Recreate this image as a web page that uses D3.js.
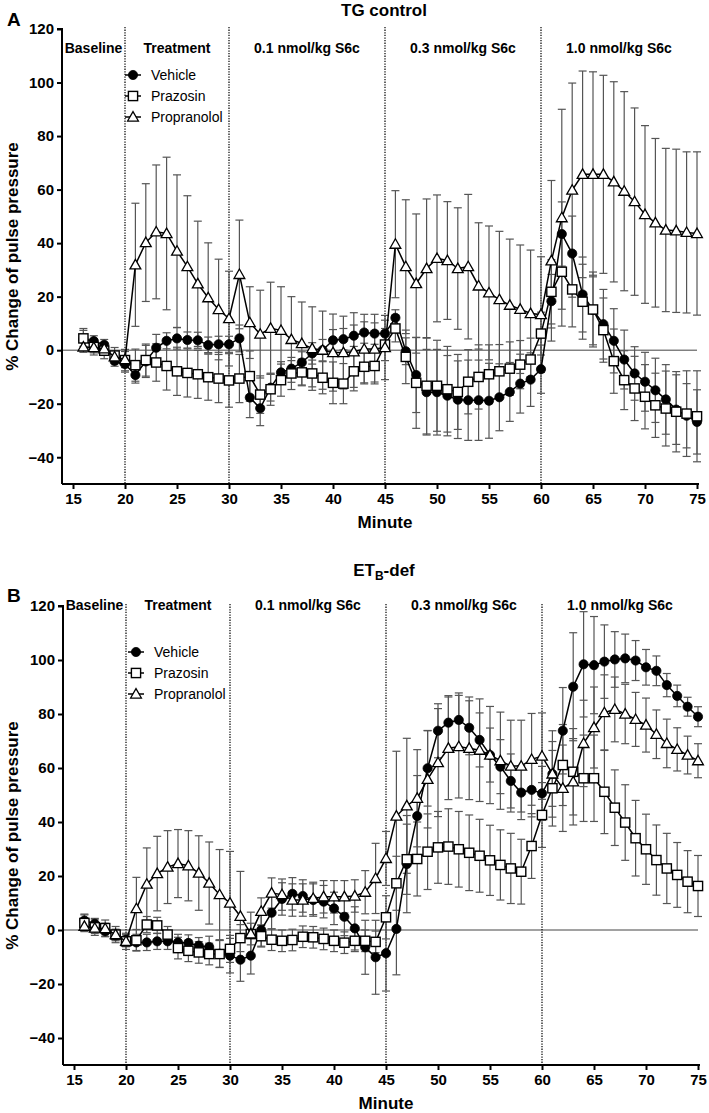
<!DOCTYPE html>
<html><head><meta charset="utf-8">
<script src="https://cdn.jsdelivr.net/npm/d3@7"></script>
<style>
body{margin:0;background:#fff}
svg{display:block}
text{font-family:"Liberation Sans",Arial,Helvetica,sans-serif;fill:#000}
</style>
</head><body>
<svg id="chart" width="709" height="1113"></svg>
<script>
// ---------------- DATA ----------------
const minutes = [16,17,18,19,20,21,22,23,24,25,26,27,28,29,30,31,32,33,34,35,36,37,38,39,40,41,42,43,44,45,46,47,48,49,50,51,52,53,54,55,56,57,58,59,60,61,62,63,64,65,66,67,68,69,70,71,72,73,74,75];
const xTicks = [15,20,25,30,35,40,45,50,55,60,65,70,75];
const yTicks = [-40,-20,0,20,40,60,80,100,120];
const phaseBounds = [20,30,45,60];
const phaseLabels = ["Baseline","Treatment","0.1 nmol/kg S6c","0.3 nmol/kg S6c","1.0 nmol/kg S6c"];
const seriesNames = ["Vehicle","Prazosin","Propranolol"];
const panelTitles = ["TG control","ET_B-def"];
const panelLetters = ["A","B"];

// Panel A (TG control)
const aVehicle = [4.1,3.4,2.0,-4.0,-5.2,-9.3,-4.2,0.9,3.5,4.4,3.8,3.7,1.9,2.2,2.2,4.4,-17.7,-21.7,-14.0,-8.3,-6.9,-4.6,-1.2,0.0,3.7,4.1,5.4,6.6,6.2,6.2,12.1,-0.4,-9.3,-15.7,-15.7,-17.0,-18.5,-18.7,-18.7,-18.9,-17.6,-15.6,-12.5,-11.0,-7.1,18.3,43.4,36.1,20.8,15.0,9.7,3.5,-3.5,-8.7,-11.8,-15.0,-18.4,-22.2,-24.5,-26.8];
const aVehicleErr = [4,2,2,2,3,3,6,5,3,4,3,3,3,3,3,5,7.5,6.5,5,4,3,4,4,4,4,4,4,4,4,5,3,5,14,16,16,15,14.5,15,15,14,12.5,11,11,10,9,10,12,14,14,13,13,12,11,10,11,12,13,13,12,12];
const aPrazosin = [4.4,1.2,-0.2,-2.0,-3.7,-5.6,-3.7,-4.6,-5.9,-7.9,-8.5,-9.0,-10.1,-10.6,-11.3,-10.6,-9.7,-16.6,-14.6,-11.2,-8.7,-8.3,-8.7,-10.3,-12.2,-12.5,-7.9,-6.2,-5.9,2.1,8.1,-2.5,-12.2,-13.3,-13.3,-14.6,-15.6,-11.8,-10.0,-9.0,-7.9,-6.9,-5.4,-3.5,6.2,21.8,29.3,22.7,18.1,15.2,7.5,-4.1,-11.2,-14.3,-17.4,-20.6,-21.8,-23.0,-23.7,-24.7];
const aPrazosinErr = [3,3,3,3,4,6,6,7,9,9,9,9,8.6,9,10,9,9.4,7,6,6,6,5,5,6,7.8,7.5,6,6,6,6,5,10,17,18,17,16,14,12,12,11,10,10,9,8,8,12,14,14,14,14,12,12,11,12,12,12,14,15,16,17];
const aPropranolol = [1.2,1.0,0.5,-2.5,-3.5,31.9,40.2,44.2,43.6,37.0,31.2,24.8,19.6,15.2,11.8,28.3,10.3,6.0,8.2,7.4,4.0,2.5,0.6,0.0,-0.9,-0.9,-0.6,0.4,0.4,1.0,39.6,31.2,24.9,30.5,34.3,33.5,30.5,31.2,24.0,21.4,18.9,16.8,15.3,13.7,13.3,33.4,49.5,59.8,65.7,65.7,65.7,62.9,59.4,55.5,50.7,47.6,44.9,44.6,44.0,43.6];
const aPropranololErr = [2,2,2,2,3,23,22,25,28.5,28.5,26.5,23.4,20.5,18.8,17.7,20.3,13.4,16.4,17.2,16.3,16,15.5,15.6,14.6,14.4,13.6,14.6,13,13,12,20,25,26,26,23.7,22,22.7,27,23.6,25,25.5,24.7,24,23.7,21.6,30,40.5,40,38.6,38.3,37,37.4,37.2,35,33.2,31.5,30.5,30.5,30.1,30.5];

// Panel B (ETB-def)
const bVehicle = [3.5,2.3,-0.5,-2.0,-3.6,-4.6,-4.6,-4.2,-4.2,-4.6,-4.8,-5.8,-6.3,-8.8,-9.5,-11.0,-9.5,0.0,6.4,11.5,13.4,12.6,11.1,10.5,8.0,4.9,0.6,-6.4,-10.1,-8.6,0.4,24.4,42.2,59.9,73.8,76.8,77.8,74.9,70.4,64.8,60.5,55.2,50.9,51.9,50.6,57.8,73.8,90.1,98.4,98.1,99.4,100.2,100.6,99.8,97.3,96.0,90.7,86.7,82.7,79.0];
const bVehicleErr = [2.4,2,2,2,2,3,3,3,3,3,3,3,4,5,6.4,8,6.8,6,6,6,6,6,6,6,6,7,8,10,13.7,14,17,18,15,14,10,10,10,10,10,10,10,10,10,10,10,12,16,20,19.5,18,13.6,10.3,9,7.4,6.6,5.5,4.3,4,3.5,3.7];
const bPrazosin = [2.6,1.0,0.7,-1.7,-4.2,-3.8,2.0,1.7,-1.7,-6.7,-7.7,-8.3,-8.9,-8.9,-7.0,-3.0,-1.5,-2.3,-3.6,-4.0,-3.7,-2.5,-2.7,-3.3,-4.0,-4.7,-4.0,-4.0,-4.4,4.7,17.3,26.2,26.3,29.0,30.6,30.9,29.9,28.6,27.5,25.8,24.1,22.8,21.6,31.1,42.6,52.5,61.1,58.6,56.2,56.2,51.2,45.3,39.8,34.0,29.9,25.9,22.8,20.4,17.9,16.3];
const bPrazosinErr = [3,3,3,3,3,4,3,3,3,4,4,4,4,5,5,5,4,4,4,4,4,4,4,4,4,4,4,4,4,8,10,13,13.7,14,13.3,14,14,14,13.5,13,13,13,12,12,12,14,15,16,16,16,15.5,14,14,14,13,13,13,12,11.5,11.3];
const bPropranolol = [1.4,0.7,0.5,-1.7,-4.2,7.9,17.0,20.9,23.3,24.6,23.8,21.1,17.4,13.1,10.0,5.1,-1.4,6.9,13.7,13.1,11.1,11.1,11.7,12.3,12.3,12.3,12.6,14.0,19.1,26.5,42.2,46.0,48.8,55.8,62.0,67.3,67.9,67.3,66.6,64.8,62.7,60.7,60.7,63.2,64.4,57.8,52.5,54.9,69.1,75.0,80.5,81.7,80.0,78.0,75.9,72.5,69.1,66.9,64.8,62.7];
const bPropranololErr = [2,2,2,2,2,11.6,13.4,13.8,13.5,12.6,13,13.8,15.2,16.7,19.1,16.6,8,5,5.6,5.8,6,6,6,6,6,6,6,8,13,10,24,25,18,18,20,19,19,19,19,18,18,17,17,17,16,16,16,16,16,15,14,12,11,10,10,9,9,8,7,6.3];

// ---------------- DRAWING ----------------
const svg = d3.select("#chart");
const FONT = '"Liberation Sans",Arial,Helvetica,sans-serif';

const panels = [
  {title: panelTitles[0], letter: panelLetters[0], series: [[aVehicle,aVehicleErr],[aPrazosin,aPrazosinErr],[aPropranolol,aPropranololErr]],
   yTop: 29, yBot: 484, axisX: 62, xl: 73, xr: 697, titleY: 16, letterY: 26, headerY: 53, legend: {x: 133, y: 75}},
  {title: panelTitles[1], letter: panelLetters[1], series: [[bVehicle,bVehicleErr],[bPrazosin,bPrazosinErr],[bPropranolol,bPropranololErr]],
   yTop: 606, yBot: 1065, axisX: 63, xl: 74, xr: 698, titleY: 576, letterY: 602, headerY: 610, legend: {x: 136, y: 652}}
];

function marker(g, type, x, y) {
  if (type === 0) {
    g.append("circle").attr("cx", x).attr("cy", y).attr("r", 4.6).attr("fill", "#000").attr("stroke","#000").attr("stroke-width",0.8);
  } else if (type === 1) {
    g.append("rect").attr("x", x - 4.6).attr("y", y - 4.6).attr("width", 9.2).attr("height", 9.2)
      .attr("fill", "#fff").attr("stroke", "#000").attr("stroke-width", 1.4);
  } else {
    const s = 5.4;
    g.append("path").attr("d", `M${x},${y - s}L${x + s},${y + s * 0.75}L${x - s},${y + s * 0.75}Z`)
      .attr("fill", "#fff").attr("stroke", "#000").attr("stroke-width", 1.3).attr("stroke-linejoin","miter");
  }
}

panels.forEach(p => {
  const x = d3.scaleLinear().domain([15, 75]).range([p.xl, p.xr]);
  const y = d3.scaleLinear().domain([-50, 120]).range([p.yBot, p.yTop]);
  const g = svg.append("g");

  // title
  const t = g.append("text").attr("x", 384).attr("y", p.titleY).attr("text-anchor", "middle")
    .attr("font-size", 17).attr("font-weight", "bold");
  if (p.title.includes("_")) {
    const [a, rest] = p.title.split("_");
    t.append("tspan").text(a);
    t.append("tspan").text(rest.charAt(0)).attr("font-size", 12).attr("dy", 4);
    t.append("tspan").text(rest.slice(1)).attr("dy", -4);
  } else t.text(p.title);

  // panel letter
  g.append("text").attr("x", 7).attr("y", p.letterY).attr("font-size", 19).attr("font-weight", "bold").text(p.letter);

  // zero line
  g.append("line").attr("x1", p.axisX).attr("x2", x(75)).attr("y1", y(0)).attr("y2", y(0))
    .attr("stroke", "#444").attr("stroke-width", 1);

  // phase dotted lines
  phaseBounds.forEach(b => {
    g.append("line").attr("x1", x(b)).attr("x2", x(b)).attr("y1", y(120) - 2).attr("y2", p.yBot)
      .attr("stroke", "#111").attr("stroke-width", 1.3).attr("stroke-dasharray", "1.3,1.3");
  });

  // phase headers
  const edges = [p.axisX, ...phaseBounds.map(b => x(b)), x(75)];
  phaseLabels.forEach((lab, i) => {
    g.append("text").attr("x", (edges[i] + edges[i + 1]) / 2).attr("y", p.headerY)
      .attr("text-anchor", "middle").attr("font-size", 14).attr("font-weight", "bold").text(lab);
  });

  // axes
  const yAxis = d3.axisLeft(y).tickValues(yTicks).tickSize(5).tickPadding(3)
    .tickFormat(d => d < 0 ? "\u2212" + Math.abs(d) : d);
  const ya = g.append("g").attr("transform", `translate(${p.axisX},0)`).call(yAxis);
  ya.select(".domain").attr("d", `M-5,${y(120)}H0V${p.yBot}`).attr("stroke", "#000").attr("stroke-width", 2);
  ya.selectAll(".tick line").attr("stroke", "#000").attr("stroke-width", 2);
  ya.selectAll(".tick text").attr("font-family", FONT).attr("font-size", 15).attr("font-weight", "bold").attr("fill","#000");

  const xAxis = d3.axisBottom(x).tickValues(xTicks).tickSize(5).tickPadding(4);
  const xa = g.append("g").attr("transform", `translate(0,${p.yBot})`).call(xAxis);
  xa.select(".domain").attr("d", `M${p.axisX},0H${x(75) + 2}`).attr("stroke", "#000").attr("stroke-width", 2);
  xa.selectAll(".tick line").attr("stroke", "#000").attr("stroke-width", 2);
  xa.selectAll(".tick text").attr("font-family", FONT).attr("font-size", 15).attr("font-weight", "bold").attr("fill","#000");

  // axis titles
  g.append("text").attr("x", x(45)).attr("y", p.yBot + 44).attr("text-anchor", "middle")
    .attr("font-size", 17).attr("font-weight", "bold").text("Minute");
  g.append("text").attr("transform", `translate(18,${(p.yTop + p.yBot) / 2}) rotate(-90)`)
    .attr("text-anchor", "middle").attr("font-size", 17).attr("font-weight", "bold").text("% Change of pulse pressure");

  // error bars
  const eg = g.append("g").attr("stroke", "#555").attr("stroke-width", 1.2).attr("fill", "none");
  p.series.forEach(([vals, errs]) => {
    vals.forEach((v, i) => {
      const cx = x(minutes[i]), y1 = y(v + errs[i]), y2 = y(v - errs[i]);
      eg.append("line").attr("x1", cx).attr("x2", cx).attr("y1", y1).attr("y2", y2);
      eg.append("line").attr("x1", cx - 4).attr("x2", cx + 4).attr("y1", y1).attr("y2", y1);
      eg.append("line").attr("x1", cx - 4).attr("x2", cx + 4).attr("y1", y2).attr("y2", y2);
    });
  });

  // lines + markers
  const line = d3.line().x((d, i) => x(minutes[i])).y(d => y(d));
  p.series.forEach(([vals], si) => {
    const sg = g.append("g");
    sg.append("path").datum(vals).attr("d", line).attr("fill", "none").attr("stroke", "#000").attr("stroke-width", 1.5);
    vals.forEach((v, i) => marker(sg, si, x(minutes[i]), y(v)));
  });

  // legend
  seriesNames.forEach((name, i) => {
    const ly = p.legend.y + i * 21;
    const lg = g.append("g");
    lg.append("line").attr("x1", p.legend.x - 8).attr("x2", p.legend.x + 8).attr("y1", ly).attr("y2", ly)
      .attr("stroke", "#000").attr("stroke-width", 1.5);
    marker(lg, i, p.legend.x, ly);
    lg.append("text").attr("x", p.legend.x + 18).attr("y", ly + 5).attr("font-size", 14).text(name);
  });
});
</script>
</body></html>
